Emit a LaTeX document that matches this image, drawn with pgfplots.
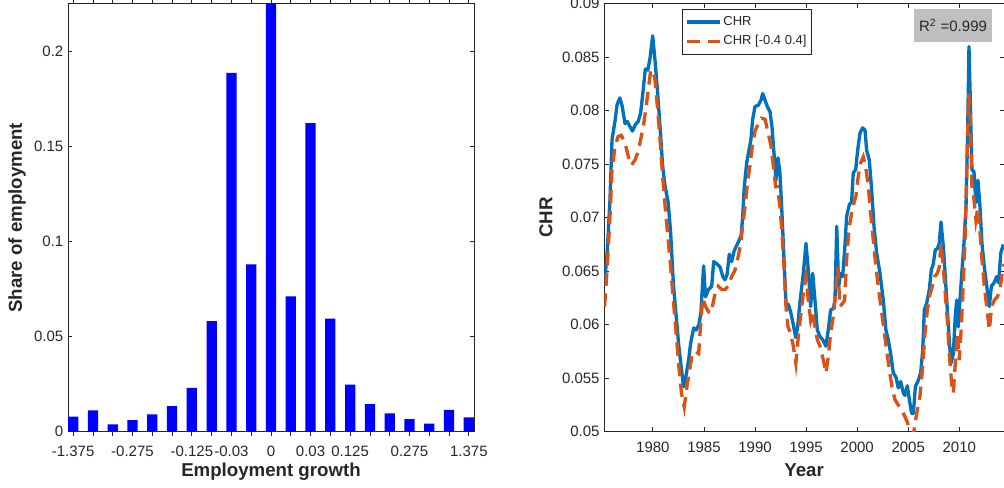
\documentclass[border=0pt]{standalone}
\usepackage{pgfplots}
\pgfplotsset{compat=1.18}
\usepackage{fontspec}
\setmainfont{Liberation Sans}

\definecolor{axgray}{RGB}{38,38,38}
\definecolor{chrblue}{RGB}{0,114,189}
\definecolor{chrorange}{RGB}{217,83,25}
\definecolor{boxgray}{RGB}{191,191,191}

% Distribution of employment by growth bin
\pgfplotstableread{
bin share
1  0.0079
2  0.0112
3  0.0038
4  0.0061
5  0.0091
6  0.0135
7  0.0231
8  0.0581
9  0.1887
10 0.0880
11 0.2300
12 0.0712
13 0.1622
14 0.0595
15 0.0248
16 0.0145
17 0.0096
18 0.0066
19 0.0042
20 0.0115
21 0.0075
}\sharetable

% Quarterly CHR series
\pgfplotstableread{
year chr
1975.28 0.0640
1975.54 0.0670
1975.80 0.0717
1976.00 0.0773
1976.30 0.0791
1976.50 0.0806
1976.77 0.0812
1977.00 0.0804
1977.27 0.0788
1977.50 0.0790
1977.76 0.0785
1978.00 0.0781
1978.28 0.0787
1978.57 0.0790
1978.80 0.0798
1979.06 0.0820
1979.26 0.0839
1979.50 0.0838
1979.72 0.0849
1979.98 0.0870
1980.20 0.0848
1980.44 0.0820
1980.70 0.0785
1980.96 0.0748
1981.20 0.0729
1981.50 0.0714
1981.74 0.0686
1982.00 0.0639
1982.28 0.0608
1982.54 0.0580
1982.80 0.0558
1983.00 0.0542
1983.20 0.0550
1983.50 0.0567
1983.70 0.0583
1984.00 0.0597
1984.24 0.0595
1984.50 0.0600
1984.70 0.0611
1984.85 0.0636
1984.97 0.0655
1985.15 0.0626
1985.45 0.0633
1985.76 0.0636
1985.95 0.0659
1986.25 0.0657
1986.57 0.0654
1986.85 0.0645
1987.06 0.0642
1987.27 0.0647
1987.48 0.0666
1987.71 0.0659
1987.96 0.0669
1988.20 0.0674
1988.45 0.0679
1988.65 0.0684
1988.79 0.0701
1988.95 0.0729
1989.18 0.0751
1989.41 0.0763
1989.60 0.0773
1989.77 0.0792
1990.00 0.0804
1990.32 0.0805
1990.59 0.0810
1990.75 0.0816
1990.98 0.0810
1991.20 0.0804
1991.47 0.0799
1991.66 0.0785
1991.86 0.0760
1992.05 0.0735
1992.25 0.0756
1992.44 0.0742
1992.64 0.0704
1992.84 0.0661
1993.03 0.0620
1993.26 0.0619
1993.49 0.0612
1993.75 0.0600
1993.98 0.0588
1994.18 0.0598
1994.40 0.0621
1994.73 0.0648
1994.99 0.0676
1995.22 0.0651
1995.45 0.0617
1995.65 0.0648
1995.87 0.0623
1996.10 0.0595
1996.36 0.0589
1996.62 0.0586
1996.95 0.0580
1997.17 0.0595
1997.41 0.0614
1997.67 0.0615
1997.83 0.0623
1998.00 0.0692
1998.19 0.0636
1998.39 0.0648
1998.58 0.0645
1998.78 0.0670
1998.97 0.0701
1999.23 0.0712
1999.46 0.0715
1999.62 0.0742
1999.86 0.0745
2000.05 0.0763
2000.28 0.0779
2000.54 0.0784
2000.77 0.0782
2000.93 0.0763
2001.19 0.0754
2001.42 0.0726
2001.65 0.0692
2001.91 0.0667
2002.24 0.0648
2002.56 0.0623
2002.82 0.0595
2003.05 0.0586
2003.28 0.0573
2003.54 0.0555
2003.80 0.0551
2004.03 0.0541
2004.26 0.0547
2004.53 0.0536
2004.68 0.0534
2004.91 0.0543
2005.11 0.0530
2005.34 0.0517
2005.50 0.0517
2005.70 0.0542
2005.99 0.0548
2006.22 0.0555
2006.42 0.0576
2006.58 0.0614
2006.81 0.0620
2007.07 0.0633
2007.26 0.0651
2007.46 0.0657
2007.65 0.0670
2007.85 0.0671
2008.04 0.0676
2008.21 0.0696
2008.44 0.0673
2008.63 0.0645
2008.83 0.0614
2009.02 0.0586
2009.19 0.0564
2009.42 0.0573
2009.61 0.0608
2009.75 0.0623
2009.90 0.0598
2010.07 0.0623
2010.27 0.0651
2010.46 0.0676
2010.66 0.0710
2010.82 0.0779
2010.95 0.0860
2011.08 0.0810
2011.24 0.0745
2011.44 0.0743
2011.63 0.0714
2011.83 0.0735
2012.03 0.0710
2012.22 0.0676
2012.45 0.0654
2012.69 0.0636
2012.94 0.0617
2013.14 0.0636
2013.40 0.0639
2013.66 0.0645
2013.86 0.0639
2014.06 0.0667
2014.32 0.0675
}\chrtable

% CHR restricted to growth rates in [-0.4, 0.4]
\pgfplotstableread{
year chr
1975.27 0.0617
1975.54 0.0655
1975.80 0.0701
1976.00 0.0745
1976.30 0.0767
1976.60 0.0776
1976.90 0.0777
1977.27 0.0770
1977.60 0.0757
1977.90 0.0749
1978.25 0.0754
1978.57 0.0762
1978.80 0.0773
1979.06 0.0785
1979.30 0.0801
1979.55 0.0820
1979.78 0.0837
1979.98 0.0838
1980.20 0.0829
1980.44 0.0804
1980.70 0.0773
1980.96 0.0738
1981.20 0.0710
1981.50 0.0679
1981.74 0.0654
1982.00 0.0623
1982.28 0.0592
1982.54 0.0561
1982.80 0.0536
1983.07 0.0523
1983.33 0.0542
1983.60 0.0558
1983.86 0.0573
1984.15 0.0575
1984.48 0.0573
1984.70 0.0604
1984.90 0.0625
1985.17 0.0617
1985.45 0.0612
1985.70 0.0611
1986.08 0.0629
1986.40 0.0636
1986.73 0.0633
1987.06 0.0633
1987.39 0.0636
1987.71 0.0645
1988.04 0.0651
1988.36 0.0664
1988.60 0.0676
1988.79 0.0692
1989.02 0.0710
1989.25 0.0732
1989.50 0.0748
1989.74 0.0767
1990.00 0.0781
1990.32 0.0788
1990.65 0.0793
1990.98 0.0792
1991.30 0.0779
1991.56 0.0767
1991.80 0.0748
1992.02 0.0729
1992.20 0.0729
1992.44 0.0710
1992.64 0.0686
1992.84 0.0654
1993.03 0.0617
1993.23 0.0598
1993.49 0.0592
1993.75 0.0580
1994.00 0.0564
1994.24 0.0589
1994.50 0.0611
1994.73 0.0629
1994.99 0.0645
1995.22 0.0623
1995.45 0.0604
1995.65 0.0611
1995.87 0.0598
1996.10 0.0586
1996.36 0.0580
1996.69 0.0567
1996.95 0.0555
1997.17 0.0570
1997.41 0.0592
1997.67 0.0608
1997.93 0.0633
1998.10 0.0654
1998.32 0.0617
1998.58 0.0620
1998.78 0.0623
1998.97 0.0661
1999.23 0.0692
1999.46 0.0704
1999.69 0.0714
1999.88 0.0720
2000.11 0.0739
2000.34 0.0751
2000.60 0.0757
2000.83 0.0748
2001.10 0.0729
2001.32 0.0704
2001.58 0.0679
2001.84 0.0654
2002.10 0.0633
2002.37 0.0614
2002.63 0.0595
2002.89 0.0576
2003.15 0.0558
2003.41 0.0542
2003.70 0.0530
2004.03 0.0525
2004.36 0.0520
2004.68 0.0514
2004.91 0.0509
2005.34 0.0496
2005.55 0.0500
2005.83 0.0517
2006.15 0.0533
2006.42 0.0561
2006.64 0.0592
2006.88 0.0614
2007.14 0.0629
2007.36 0.0636
2007.59 0.0645
2007.85 0.0648
2008.04 0.0654
2008.21 0.0676
2008.44 0.0654
2008.63 0.0629
2008.83 0.0604
2009.02 0.0573
2009.25 0.0545
2009.42 0.0536
2009.61 0.0564
2009.81 0.0592
2010.00 0.0567
2010.20 0.0598
2010.40 0.0639
2010.59 0.0686
2010.76 0.0754
2010.92 0.0816
2011.08 0.0795
2011.24 0.0729
2011.44 0.0717
2011.63 0.0698
2011.83 0.0710
2012.03 0.0686
2012.22 0.0661
2012.45 0.0636
2012.69 0.0617
2012.94 0.0595
2013.17 0.0617
2013.43 0.0623
2013.73 0.0626
2013.99 0.0633
2014.32 0.0657
}\chrcuttable

\pgfplotsset{
  panel/.style={
    scale only axis,
    height=321pt,
    anchor=south west,
    clip mode=individual,
    axis line style={draw=axgray, line width=0.6pt},
    every tick/.style={draw=axgray, line width=0.6pt},
    major tick length=3.2pt,
    tick label style={font=\fontsize{11.25}{13}\selectfont, text=axgray},
    label style={font=\fontsize{14}{16}\selectfont\bfseries, text=axgray},
    xticklabel style={anchor=base, yshift=-15.75pt},
    xlabel style={at={(axis description cs:0.5,-0.1051)}, anchor=base},
  },
}

\begin{document}
\begin{tikzpicture}

% Left: share of employment by employment-growth bin
\begin{axis}[panel,
  at={(51pt,42.2pt)},
  width=304.5pt,
  xmin=0.74, xmax=21.26,
  ymin=0, ymax=0.225,
  xtick={1,...,21},
  xticklabels={-1.375,,,-0.275,,,-0.125,,-0.03,,0,,0.03,,0.125,,,0.275,,,1.375},
  ytick={0,0.05,0.1,0.15,0.2},
  yticklabels={0,0.05,0.1,0.15,0.2},
  xlabel={Employment growth},
  ylabel={Share of employment},
  ylabel style={at={(axis description cs:-0.1256,0.5)}, anchor=center},
  ybar, bar width=7.7pt,
]
\addplot[fill=blue, draw=none] table[x=bin, y=share] {\sharetable};
\end{axis}

% Right: CHR over time
\begin{axis}[panel,
  at={(453.2pt,42.2pt)},
  width=299.8pt,
  xmin=1975.24, xmax=2014.38,
  ymin=0.05, ymax=0.09,
  xtick={1980,1985,1990,1995,2000,2005,2010},
  xticklabels={1980,1985,1990,1995,2000,2005,2010},
  ytick={0.05,0.055,0.06,0.065,0.07,0.075,0.08,0.085,0.09},
  yticklabels={0.05,0.055,0.06,0.065,0.07,0.075,0.08,0.085,0.09},
  xlabel={Year},
  ylabel={CHR},
  ylabel style={at={(axis description cs:-0.1459,0.5)}, anchor=center},
  legend style={at={(0.1945,0.9883)}, anchor=north west,
    draw=axgray, line width=0.5pt, fill=white,
    font=\fontsize{9.75}{11}\selectfont, text=axgray,
    inner xsep=2.3pt, inner ysep=4.5pt, row sep=4pt,
    nodes={inner sep=1pt},
    legend cell align=left},
  legend image code/.code={\draw[#1] (0pt,0pt) -- (25pt,0pt);},
]
\addplot[chrblue, line width=2.5pt, line join=round] table[x=year, y=chr] {\chrtable};
\addlegendentry{CHR}
\addplot[chrorange, line width=2.5pt, dash pattern=on 10pt off 5.5pt] table[x=year, y=chr] {\chrcuttable};
\addlegendentry{CHR [-0.4 0.4]}
\node[fill=boxgray, minimum width=58.5pt, minimum height=24.75pt, inner sep=0pt,
  font=\fontsize{11.25}{13}\selectfont, text=axgray]
  at (rel axis cs:0.8725,0.9495) {R\textsuperscript{2} =0.999};
\end{axis}

\pgfresetboundingbox
\useasboundingbox (0pt,0pt) rectangle (753pt,366pt);
\end{tikzpicture}
\end{document}
